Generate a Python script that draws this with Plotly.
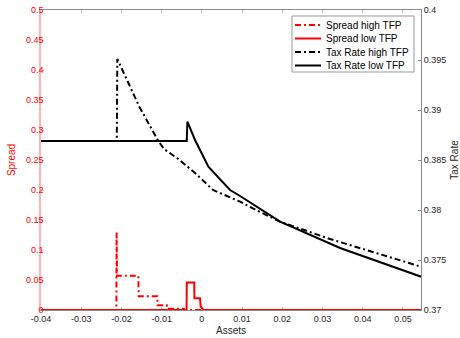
import plotly.graph_objects as go

# ---- data ----
spread_high_x = [-0.04, -0.02125, -0.0212, -0.0211, -0.0158, -0.0157, -0.0111, -0.0110,
                 -0.0087, -0.0086, -0.0045, -0.0044, 0.0545]
spread_high_y = [0, 0, 0.13, 0.057, 0.057, 0.023, 0.023, 0.008, 0.008, 0.002, 0.002, 0, 0]

spread_low_x = [-0.04, -0.0038, -0.00375, -0.0019, -0.00185, -0.00045, -0.0003, 0.0004, 0.0545]
spread_low_y = [0, 0, 0.046, 0.046, 0.0195, 0.0195, 0.006, 0, 0]

tax_high_x = [-0.04, -0.02115, -0.02102, -0.01555, -0.01082, -0.00940, -0.00609, -0.00169,
              0.00279, 0.00950, 0.01448, 0.01945, 0.03189, 0.04433, 0.05453]
tax_high_y = [0.3869, 0.3869, 0.3951, 0.39033, 0.3869, 0.3861, 0.38517, 0.3837,
              0.3820, 0.38083, 0.3798, 0.37883, 0.3771, 0.3756, 0.37433]

tax_low_x = [-0.04, -0.00376, -0.00360, -0.00169, 0.00162, 0.00701, 0.00950, 0.01448,
             0.01945, 0.03438, 0.04433, 0.05453]
tax_low_y = [0.3869, 0.3869, 0.38883, 0.3870, 0.38433, 0.3820, 0.3814, 0.3801,
             0.37883, 0.3762, 0.3748, 0.37333]

series_names = ["Spread high TFP", "Spread low TFP", "Tax Rate high TFP", "Tax Rate low TFP"]

x_ticks = [-0.04, -0.03, -0.02, -0.01, 0, 0.01, 0.02, 0.03, 0.04, 0.05]
x_tick_labels = ["-0.04", "-0.03", "-0.02", "-0.01", "0", "0.01", "0.02", "0.03", "0.04", "0.05"]
spread_ticks = [0, 0.05, 0.1, 0.15, 0.2, 0.25, 0.3, 0.35, 0.4, 0.45, 0.5]
spread_tick_labels = ["0", "0.05", "0.1", "0.15", "0.2", "0.25", "0.3", "0.35", "0.4", "0.45", "0.5"]
tax_ticks = [0.37, 0.375, 0.38, 0.385, 0.39, 0.395, 0.4]
tax_tick_labels = ["0.37", "0.375", "0.38", "0.385", "0.39", "0.395", "0.4"]

FONT = "Liberation Sans, Arial, Helvetica, sans-serif"
DASHDOT = "6px,3px,2px,3px"
RED = "#ff0000"
styles = [dict(color=RED, width=2, dash=DASHDOT),
          dict(color=RED, width=2, dash="solid"),
          dict(color="black", width=2, dash=DASHDOT),
          dict(color="black", width=2, dash="solid")]

fig = go.Figure()
fig.add_trace(go.Scatter(x=spread_high_x, y=spread_high_y, mode="lines", name=series_names[0],
                         line=styles[0], yaxis="y"))
fig.add_trace(go.Scatter(x=spread_low_x, y=spread_low_y, mode="lines", name=series_names[1],
                         line=styles[1], yaxis="y"))
fig.add_trace(go.Scatter(x=tax_high_x, y=tax_high_y, mode="lines", name=series_names[2],
                         line=styles[2], yaxis="y2"))
fig.add_trace(go.Scatter(x=tax_low_x, y=tax_low_y, mode="lines", name=series_names[3],
                         line=styles[3], yaxis="y2"))

# compact MATLAB-style legend box (layout decoration, paper coordinates)
box = dict(x0=0.6605, x1=0.9816, y0=0.7933, y1=0.98)
row_y = [0.95, 0.905, 0.86, 0.815]
shapes = [dict(type="rect", xref="paper", yref="paper", x0=box["x0"], x1=box["x1"],
               y0=box["y0"], y1=box["y1"], line=dict(color="#999999", width=1),
               fillcolor="white", layer="above")]
annotations = []
for name, st, ry in zip(series_names, styles, row_y):
    shapes.append(dict(type="line", xref="paper", yref="paper", x0=0.6684, x1=0.7368,
                       y0=ry, y1=ry, line=dict(color=st["color"], width=st["width"], dash=st["dash"]),
                       layer="above"))
    annotations.append(dict(text=name, xref="paper", yref="paper", x=0.7447, y=ry,
                            xanchor="left", yanchor="middle", showarrow=False,
                            font=dict(size=10, color="black", family=FONT)))

fig.update_layout(
    width=460, height=338,
    margin=dict(l=41, r=39, t=10, b=28, autoexpand=False),
    paper_bgcolor="white", plot_bgcolor="white",
    font=dict(family=FONT, size=9, color="#262626"),
    showlegend=False,
    shapes=shapes, annotations=annotations,
    xaxis=dict(range=[-0.04, 0.0545], tickmode="array", tickvals=x_ticks, ticktext=x_tick_labels,
               ticks="inside", ticklen=3, tickcolor="#bfbfbf",
               showline=True, linecolor="#8c8c8c", linewidth=1, mirror="ticks",
               showgrid=False, zeroline=False, layer="below traces",
               title=dict(text="Assets", font=dict(size=10, color="#262626"), standoff=4),
               tickfont=dict(size=9, color="#262626")),
    yaxis=dict(range=[0, 0.5], tickmode="array", tickvals=spread_ticks, ticktext=spread_tick_labels,
               ticks="inside", ticklen=3, tickcolor="#ffb3b3",
               showline=True, linecolor="#ffb3b3", linewidth=1.5,
               showgrid=False, zeroline=False, layer="below traces",
               ticklabelstandoff=-6,
               title=dict(text="Spread", font=dict(size=10, color=RED), standoff=8),
               tickfont=dict(size=9, color=RED)),
    yaxis2=dict(range=[0.37, 0.4], tickmode="array", tickvals=tax_ticks, ticktext=tax_tick_labels,
                overlaying="y", side="right", anchor="x",
                ticks="inside", ticklen=3, tickcolor="#8c8c8c",
                showline=True, linecolor="#8c8c8c", linewidth=1,
                showgrid=False, zeroline=False, layer="below traces",
                title=dict(text="Tax Rate", font=dict(size=10, color="#262626"), standoff=10),
                tickfont=dict(size=9, color="#262626")),
)

fig.write_html("out.html", config={"displayModeBar": False},
               post_script="document.body.style.margin='0';")
